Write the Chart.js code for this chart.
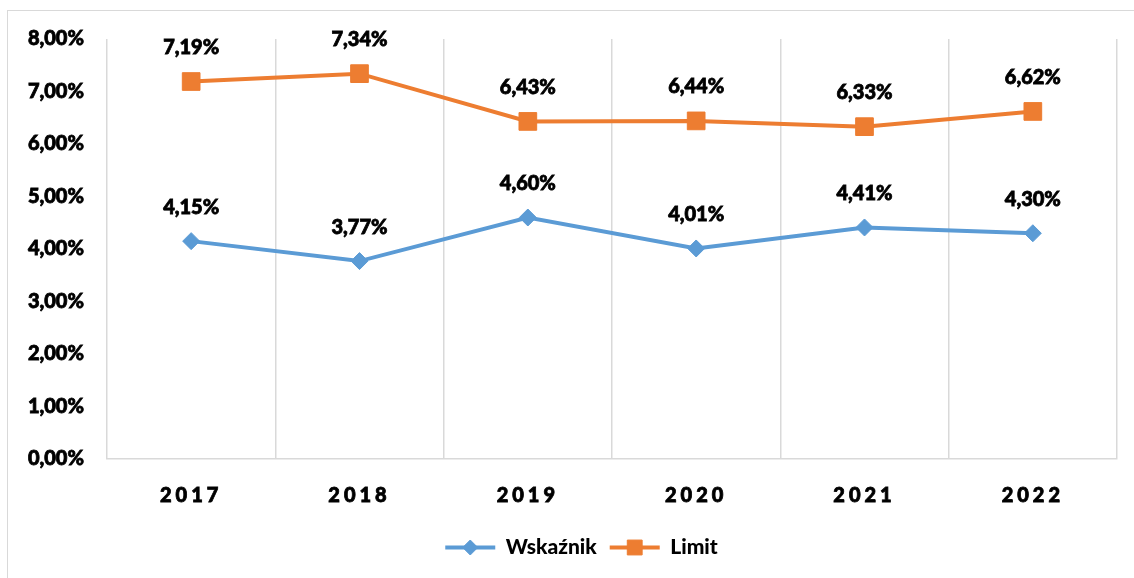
<!DOCTYPE html>
<html>
<head>
<meta charset="utf-8">
<script src="https://cdn.jsdelivr.net/npm/chart.js@4/dist/chart.umd.min.js"></script>
<style>
    html, body { margin: 0; padding: 0; background: #fff; }
    #wrap { width: 1134px; height: 578px; }
</style>
</head>
<body>
<div id="wrap"><canvas id="chart" width="1134" height="578"></canvas></div>
<script>
const years = ["2017", "2018", "2019", "2020", "2021", "2022"]
const wskaznik = [4.15, 3.77, 4.60, 4.01, 4.41, 4.30]
const limit = [7.19, 7.34, 6.43, 6.44, 6.33, 6.62]
const yTicks = [0, 1, 2, 3, 4, 5, 6, 7, 8]

const blue = "#5B9BD5"
const orange = "#ED7D31"
const fontFamily = "Lato, 'Open Sans', sans-serif"
const fontWeight = "900"
const stroke = 0.8   // a bit of outline to get closer to the heavy original text
const legendShift = 23

const fmt = v => v.toFixed(2).replace(".", ",") + "%"

// frame around the whole chart (only left/top visible in the picture)
const framePlugin = {
    id: "frame",
    beforeDraw(chart) {
        const ctx = chart.ctx
        ctx.save()
        ctx.strokeStyle = "#d9d9d9"
        ctx.lineWidth = 1
        ctx.strokeRect(7.5, 10.5, 1300, 700)
        ctx.restore()
    }
}

// value labels above every point
const valueLabels = {
    id: "valueLabels",
    afterDatasetsDraw(chart) {
        const ctx = chart.ctx
        ctx.save()
        ctx.font = fontWeight + " 20px " + fontFamily
        ctx.fillStyle = "#000"
        ctx.strokeStyle = "#000"
        ctx.lineWidth = stroke
        ctx.textAlign = "center"
        ctx.textBaseline = "middle"
        chart.data.datasets.forEach((ds, i) => {
            chart.getDatasetMeta(i).data.forEach((pt, j) => {
                ctx.strokeText(fmt(ds.data[j]), pt.x, pt.y - 34)
                ctx.fillText(fmt(ds.data[j]), pt.x, pt.y - 34)
            })
        })
        ctx.restore()
    }
}

// spaced-out year labels on the x axis, legend nudged right like the original
const tweakLayout = {
    id: "tweakLayout",
    afterLayout(chart) {
        const sc = chart.scales.x
        if (!sc._spaced) {
            const orig = sc.drawLabels.bind(sc)
            sc.drawLabels = function (area) {
                chart.ctx.letterSpacing = "4px"
                orig(area)
                chart.ctx.letterSpacing = "0px"
            }
            sc._spaced = true
        }
        const lg = chart.legend
        lg.left += legendShift
        lg.right += legendShift
        lg.legendHitBoxes.forEach(b => { b.left += legendShift })
    }
}

// draw the series marker on top of the legend line
const legendMarkers = {
    id: "legendMarkers",
    afterDraw(chart) {
        const lg = chart.legend
        if (!lg || !lg.legendHitBoxes) return
        const ctx = chart.ctx
        lg.legendHitBoxes.forEach((box, i) => {
            const ds = chart.data.datasets[i]
            const bw = lg.options.labels.boxWidth
            const cx = box.left + bw / 2
            const cy = box.top + box.height / 2
            ctx.save()
            ctx.fillStyle = ds.borderColor
            ctx.strokeStyle = ds.borderColor
            Chart.helpers.drawPoint(ctx, {
                pointStyle: ds.pointStyle,
                radius: ds.pointStyle === "rect" ? 10.5 : 7.5,
                borderWidth: 1
            }, cx, cy)
            ctx.restore()
        })
    }
}

const ctx = document.getElementById("chart").getContext("2d")

new Chart(ctx, {
    type: "line",
    data: {
        labels: years,
        datasets: [
            {
                label: "Wskaźnik",
                data: wskaznik,
                borderColor: blue,
                backgroundColor: blue,
                borderWidth: 4,
                pointStyle: "rectRot",
                pointRadius: 8.5,
                pointHoverRadius: 8.5,
                pointBorderWidth: 1,
                tension: 0
            },
            {
                label: "Limit",
                data: limit,
                borderColor: orange,
                backgroundColor: orange,
                borderWidth: 4,
                pointStyle: "rect",
                pointRadius: 12.5,
                pointHoverRadius: 12.5,
                pointBorderWidth: 1,
                tension: 0
            }
        ]
    },
    options: {
        responsive: false,
        animation: false,
        events: [],
        layout: { padding: { left: 0, right: 17, top: 39, bottom: 10 } },
        plugins: {
            tooltip: { enabled: false },
            legend: {
                position: "bottom",
                labels: {
                    font: { family: fontFamily, size: 21, weight: fontWeight },
                    color: "#000",
                    boxWidth: 50,
                    boxHeight: 4,
                    padding: 13,
                    generateLabels(chart) {
                        return chart.data.datasets.map((ds, i) => ({
                            text: ds.label,
                            fillStyle: ds.borderColor,
                            strokeStyle: ds.borderColor,
                            lineWidth: 0,
                            datasetIndex: i,
                            hidden: false
                        }))
                    }
                }
            }
        },
        scales: {
            x: {
                offset: true,
                grid: {
                    offset: true,
                    color: "#d9d9d9",
                    lineWidth: 1.5,
                    drawTicks: false
                },
                border: { color: "#d9d9d9", width: 1.5 },
                ticks: {
                    color: "#000",
                    padding: 25,
                    textStrokeColor: "#000",
                    textStrokeWidth: stroke,
                    font: { family: fontFamily, size: 20, weight: fontWeight }
                },
                afterFit(scale) { scale.height = 65 }
            },
            y: {
                min: 0,
                max: 8,
                afterBuildTicks(scale) {
                    scale.ticks = yTicks.map(v => ({ value: v }))
                },
                grid: { display: false, drawTicks: false },
                border: { display: false },
                ticks: {
                    color: "#000",
                    padding: 23,
                    textStrokeColor: "#000",
                    textStrokeWidth: stroke,
                    font: { family: fontFamily, size: 20, weight: fontWeight },
                    callback: v => fmt(v)
                },
                afterFit(scale) { scale.width = 107 }
            }
        }
    },
    plugins: [framePlugin, valueLabels, tweakLayout, legendMarkers]
})
</script>
</body>
</html>
